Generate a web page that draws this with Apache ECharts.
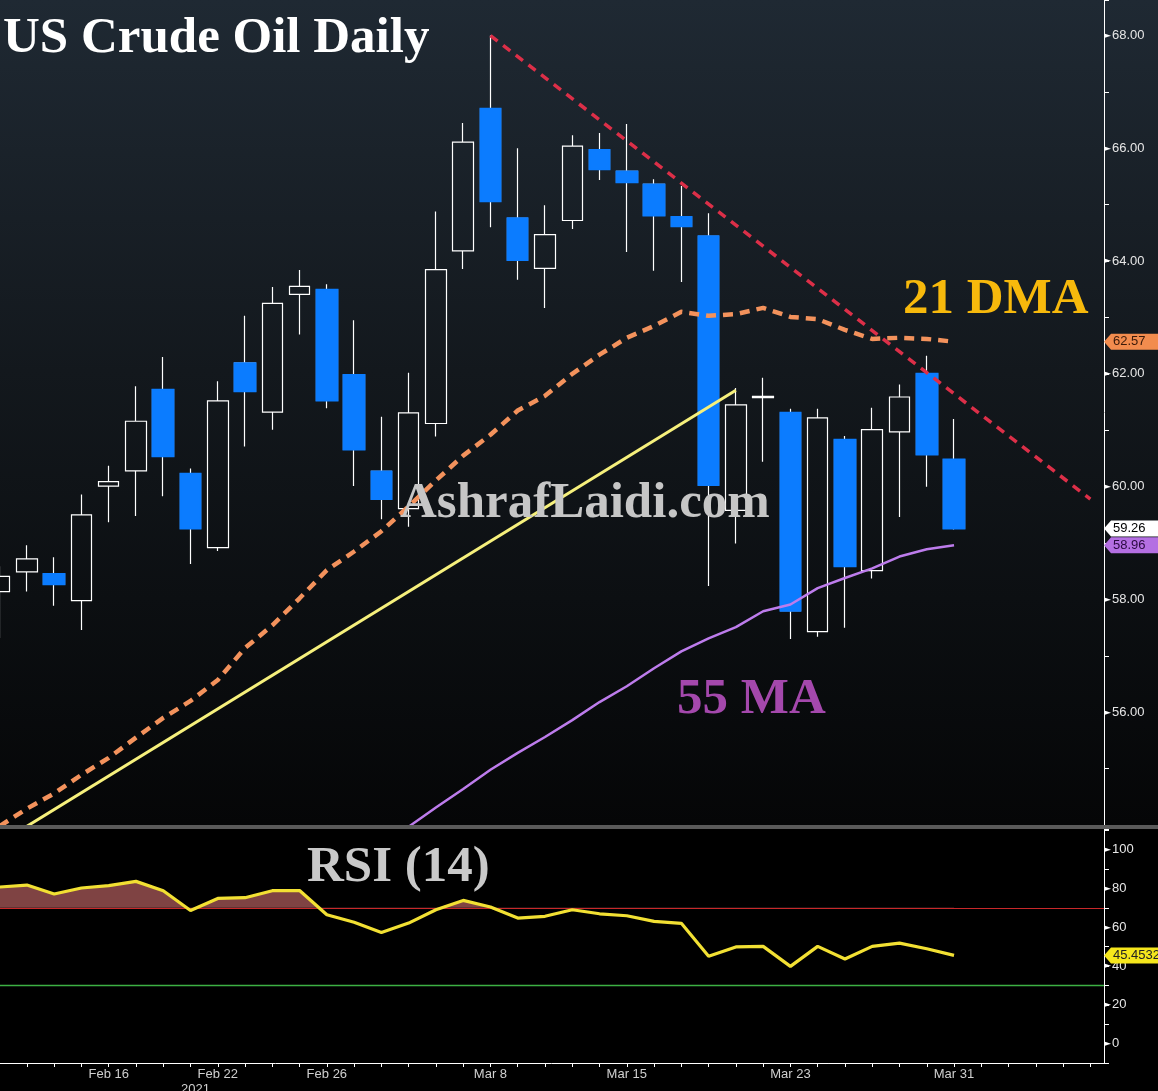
<!DOCTYPE html>
<html><head><meta charset="utf-8">
<script src="https://cdn.jsdelivr.net/npm/echarts@6/dist/echarts.min.js"></script>
<style>html,body{margin:0;padding:0;background:#000;overflow:hidden}#c{width:1158px;height:1091px;}</style>
</head><body><div id="c"></div>
<script>
const categories = ['Feb 9','Feb 10','Feb 11','Feb 12','Feb 16','Feb 17','Feb 18','Feb 19','Feb 22','Feb 23','Feb 24','Feb 25','Feb 26','Mar 1','Mar 2','Mar 3','Mar 4','Mar 5','Mar 8','Mar 9','Mar 10','Mar 11','Mar 12','Mar 15','Mar 16','Mar 17','Mar 18','Mar 19','Mar 22','Mar 23','Mar 24','Mar 25','Mar 26','Mar 29','Mar 30','Mar 31','Apr 1','Apr 2','Apr 5','Apr 6','Apr 7'];
const tickLabels = ['Feb 16','Feb 22','Feb 26','Mar 8','Mar 15','Mar 23','Mar 31'];
const yearLabel = '2021';
const yearLabelAt = 7;

const openP  = [58.14,58.49,58.45,57.98,60.01,60.28,61.72,60.23,58.92,62.19,61.32,63.41,63.49,61.98,60.27,59.61,61.12,64.18,66.70,64.76,63.87,64.72,65.97,65.59,65.36,64.78,64.44,59.58,61.58,61.31,57.43,60.83,58.51,60.97,62.00,60.48];
const closeP = [58.41,58.72,58.27,59.50,60.09,61.16,60.54,59.26,61.52,61.69,63.25,63.55,61.53,60.66,59.78,61.31,63.85,66.11,65.06,64.02,64.47,66.04,65.63,65.40,64.81,64.62,60.03,61.45,61.60,57.80,61.22,58.59,61.01,61.59,60.57,59.26];
const lowP   = [57.31,58.14,57.89,57.46,59.37,59.48,59.83,58.63,58.86,60.71,61.01,62.70,61.39,60.01,59.42,59.29,60.89,63.86,64.60,63.67,63.17,64.57,65.44,64.16,63.83,63.63,58.24,58.99,60.44,57.30,57.34,57.50,58.37,59.46,60.00,59.24];
const highP  = [58.59,58.96,58.75,59.86,60.37,61.78,62.30,60.32,61.87,63.03,63.54,63.84,63.59,62.95,61.24,62.02,64.88,66.45,68.00,66.00,64.99,66.23,66.27,66.43,65.45,65.33,64.85,61.75,61.93,61.38,61.38,60.90,61.40,61.81,62.32,61.20];

const dma21 = [53.98,54.29,54.56,54.89,55.19,55.55,55.90,56.20,56.57,57.14,57.54,58.02,58.52,58.85,59.21,59.65,60.11,60.55,60.92,61.35,61.61,62.00,62.34,62.64,62.85,63.10,63.03,63.06,63.17,63.01,62.97,62.78,62.62,62.64,62.62,62.57];
const ma55  = ['-','-','-','-','-','-','-','-','-','-','-','-','-','-',53.64,53.97,54.31,54.64,54.98,55.28,55.56,55.86,56.18,56.46,56.78,57.08,57.31,57.51,57.79,57.91,58.20,58.38,58.55,58.76,58.89,58.96];
const rsi14 = [80.7,81.7,77.1,80.2,81.4,83.6,78.8,68.6,74.8,75.2,78.8,78.9,66.4,62.5,57.3,62.1,69.0,73.8,70.4,64.7,65.6,69.0,66.9,65.9,63.0,62.0,45.0,49.8,50.1,39.8,50.1,43.6,50.1,51.8,48.9,45.4532];

const resistIdx = [18, 40];
const resistVal = [68.00, 59.78];
const supportIdx = [0, 27];
const supportVal = [53.68, 61.71];

const rsiOverbought = 70;
const rsiOversold = 30;

const priceMin = 54, priceMax = 68.63, priceStep = 1;
const rsiMin = -10, rsiMax = 110.6, rsiStep = 10;

const chart = echarts.init(document.getElementById('c'), null, {renderer: 'canvas'});

const upDown = openP.map((o, i) => [o, closeP[i], lowP[i], highP[i]]);
const downBodies = openP.map((o, i) => closeP[i] < o ? [o, closeP[i], closeP[i], o] : '-');

const axisFont = 'Liberation Sans';
const rich = {t: {fontSize: 9, color: '#ffffff', fontFamily: 'DejaVu Sans', padding: [0, 1, 0, 0]}, v: {fontSize: 13, color: '#e6e6e6', fontFamily: axisFont}};

const option = {
  backgroundColor: '#000',
  animation: false,
  grid: [
    {left: -14, top: 0, width: 1118, height: 825, outerBoundsMode: 'none', containLabel: false},
    {left: -14, top: 829, width: 1118, height: 234, outerBoundsMode: 'none', containLabel: false}
  ],
  xAxis: [
    {type: 'category', gridIndex: 0, data: categories, boundaryGap: true, show: false},
    {type: 'category', gridIndex: 1, data: categories, boundaryGap: true, position: 'bottom',
     axisLine: {show: true, onZero: false, lineStyle: {color: '#ffffff', width: 1}},
     axisTick: {show: true, alignWithLabel: true, interval: 0, length: 4, lineStyle: {color: '#ffffff'}},
     axisLabel: {interval: (i, v) => tickLabels.indexOf(v) >= 0, color: '#cfcfcf', fontSize: 13, fontFamily: axisFont, margin: 5},
     splitLine: {show: false}}
  ],
  yAxis: [
    {type: 'value', gridIndex: 0, position: 'right', min: priceMin, max: priceMax, interval: priceStep,
     axisLine: {show: true, lineStyle: {color: '#ffffff', width: 1}},
     axisTick: {show: true, length: 5, lineStyle: {color: '#ffffff'}},
     splitLine: {show: false},
     axisLabel: {margin: 0, rich: rich, formatter: v => {
       const r = Math.round(v);
       if (Math.abs(v - r) > 1e-6 || r % 2 !== 0 || r < 56 || r > 68) return '';
       return '{t|►}{v|' + r.toFixed(2) + '}';
     }}},
    {type: 'value', gridIndex: 1, position: 'right', min: rsiMin, max: rsiMax, interval: rsiStep,
     axisLine: {show: true, lineStyle: {color: '#ffffff', width: 1}},
     axisTick: {show: true, length: 5, lineStyle: {color: '#ffffff'}},
     splitLine: {show: false},
     axisLabel: {margin: 0, rich: rich, formatter: v => {
       const r = Math.round(v);
       if (Math.abs(v - r) > 1e-6 || r % 20 !== 0 || r < 0 || r > 100) return '';
       return '{t|►}{v|' + r + '}';
     }}}
  ],
  visualMap: [{
    show: false, type: 'piecewise', seriesIndex: 6, dimension: 1,
    pieces: [{gt: rsiOverbought, lte: 1000, color: '#7f4343'}, {gte: -1000, lte: rsiOverbought, color: 'rgba(0,0,0,0)'}]
  }],
  series: [
    {name: 'ohlc', type: 'candlestick', xAxisIndex: 0, yAxisIndex: 0, data: upDown, barWidth: 21, z: 2,
     itemStyle: {color: 'rgba(0,0,0,0)', color0: 'rgba(0,0,0,0)', borderColor: '#ffffff', borderColor0: '#ffffff', borderColorDoji: '#ffffff', borderWidth: 1.2}},
    {name: 'down', type: 'candlestick', xAxisIndex: 0, yAxisIndex: 0, data: downBodies, barWidth: 21, z: 2,
     itemStyle: {color: '#0b7cff', color0: '#0b7cff', borderColor: '#0b7cff', borderColor0: '#0b7cff', borderWidth: 2}},
    {name: 'support', type: 'line', xAxisIndex: 0, yAxisIndex: 0, data: supportIdx.map((x, i) => [x, supportVal[i]]),
     showSymbol: false, z: 3, lineStyle: {color: '#f6f07c', width: 3}},
    {name: '55 MA', type: 'line', xAxisIndex: 0, yAxisIndex: 0, data: ma55, showSymbol: false, z: 3,
     lineStyle: {color: '#bd7cec', width: 2.5}},
    {name: '21 DMA', type: 'line', xAxisIndex: 0, yAxisIndex: 0, data: dma21, showSymbol: false, z: 4,
     lineStyle: {color: '#f3925c', width: 4.5, type: [10, 7]}},
    {name: 'resistance', type: 'line', xAxisIndex: 0, yAxisIndex: 0, data: resistIdx.map((x, i) => [x, resistVal[i]]),
     showSymbol: false, z: 4, lineStyle: {color: '#dc2f48', width: 3.5, type: [9, 7]}},
    {name: 'rsiArea', type: 'line', xAxisIndex: 1, yAxisIndex: 1, data: rsi14, showSymbol: false, z: 1,
     lineStyle: {width: 0}, areaStyle: {origin: rsiOverbought, opacity: 1}},
    {name: 'RSI', type: 'line', xAxisIndex: 1, yAxisIndex: 1, data: rsi14, showSymbol: false, z: 3,
     lineStyle: {color: '#f2e033', width: 3.2}}
  ]
};
chart.setOption(option);

// graphics (backgrounds, annotations, level lines, value tags)
const px = (g, x, y) => chart.convertToPixel({gridIndex: g}, [x, y]);
const c0 = px(0, 0, 60)[0], c1 = px(0, 1, 60)[0];
const band = c1 - c0;
const axisX = px(0, categories.length - 1, 60)[0] + band / 2;
const mainBottom = px(0, 0, priceMin)[1];
const rsiTop = px(1, 0, rsiMax)[1];
const yOB = Math.round(px(1, 0, rsiOverbought)[1]) + 0.5;
const yOS = Math.round(px(1, 0, rsiOversold)[1]) + 0.5;

const serif = '"Liberation Serif", "Times New Roman", serif';
const txt = (id, text, x, y, color, size) => ({type: 'text', id, x, y, z: 100,
  style: {text, fill: color, font: 'bold ' + size + 'px ' + serif, align: 'left', verticalAlign: 'middle'}});

const tags = [
  {v: dma21[dma21.length - 1], t: dma21[dma21.length - 1].toFixed(2), g: 0, bg: '#f28c4e', fg: '#3b1a0a'},
  {v: closeP[closeP.length - 1], t: closeP[closeP.length - 1].toFixed(2), g: 0, bg: '#ffffff', fg: '#000000'},
  {v: ma55[ma55.length - 1], t: ma55[ma55.length - 1].toFixed(2), g: 0, bg: '#b46fe2', fg: '#2a0a40'},
  {v: rsi14[rsi14.length - 1], t: rsi14[rsi14.length - 1].toFixed(4), g: 1, bg: '#f5e61c', fg: '#222222'}
];
const W = 1158 - axisX;
const tagEls = [];
tags.forEach((tg, i) => {
  const y = px(tg.g, 0, tg.v)[1];
  tagEls.push({type: 'polygon', id: 'tagbg' + i, x: axisX, y: y, z: 110,
    shape: {points: [[0, 0], [7, -8], [W, -8], [W, 8], [7, 8]]}, style: {fill: tg.bg}});
  tagEls.push({type: 'text', id: 'tagt' + i, x: axisX + 9, y: y, z: 111,
    style: {text: tg.t, fill: tg.fg, font: '13px "Liberation Sans"', align: 'left', verticalAlign: 'middle'}});
});

const yearX = px(1, yearLabelAt, 50)[0] + 5;

chart.setOption({graphic: [
  {type: 'rect', id: 'bgMain', x: 0, y: 0, z: -10, silent: true,
   shape: {width: 1158, height: mainBottom},
   style: {fill: new echarts.graphic.LinearGradient(0, 0, 0, 1, [
     {offset: 0, color: '#1f2933'}, {offset: 0.45, color: '#13181d'}, {offset: 1, color: '#050607'}])}},
  {type: 'rect', id: 'sep', x: 0, y: mainBottom, z: 90, silent: true,
   shape: {width: 1158, height: rsiTop - mainBottom}, style: {fill: '#5a5a5a'}},
  {type: 'line', id: 'obLine', z: 1, silent: true, shape: {x1: 0, y1: yOB, x2: axisX, y2: yOB},
   style: {stroke: '#c8282a', lineWidth: 1}},
  {type: 'line', id: 'osLine', z: 95, silent: true, shape: {x1: 0, y1: yOS, x2: axisX, y2: yOS},
   style: {stroke: '#3cb043', lineWidth: 1.5, opacity: 1}},
  txt('title', 'US Crude Oil Daily', 3, 39, '#ffffff', 51),
  txt('dmaLbl', '21 DMA', 903, 300, '#f7b90c', 51),
  txt('maLbl', '55 MA', 677, 700, '#a448ac', 51),
  txt('rsiLbl', 'RSI (14)', 307, 868, '#c9c9c9', 51),
  txt('wm', 'AshrafLaidi.com', 400, 504, '#c6c6c6', 51),
  {type: 'text', id: 'year', x: yearX, y: 1089, z: 100,
   style: {text: yearLabel, fill: '#cfcfcf', font: '13px "Liberation Sans"', align: 'center', verticalAlign: 'middle'}}
].concat(tagEls)});
</script>
</body></html>
